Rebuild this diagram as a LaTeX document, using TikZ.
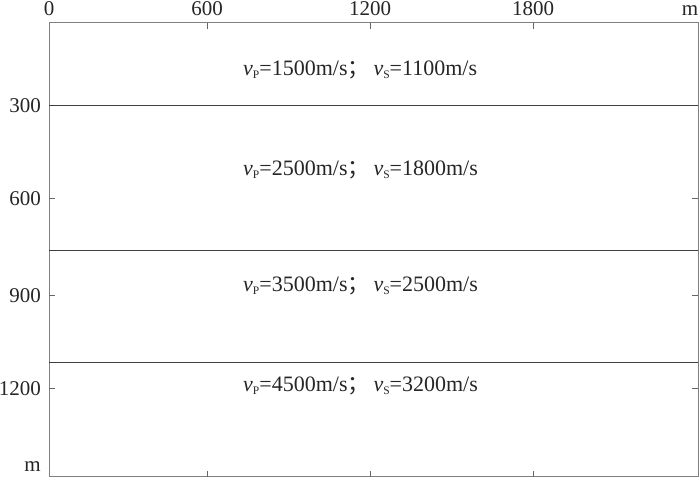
\documentclass[tikz,border=0pt]{standalone}
\usepackage{fontspec}
\setmainfont{Liberation Serif}
\newfontfamily\cjk{Noto Sans CJK SC}
\newcommand{\vsub}[1]{\textit{v}\raisebox{-0.3ex}{\fontsize{11.5}{12}\selectfont #1}}
\begin{document}
\begin{tikzpicture}[x=1pt,y=-1pt,
  lbl/.style={font=\fontsize{21}{24}\selectfont, text=black!85, inner sep=0pt},
  vel/.style={font=\fontsize{22}{25}\selectfont, text=black!85, inner sep=0pt},
  frame/.style={draw=black!50, line width=1pt},
  layer/.style={draw=black!75, line width=0.9pt},
  tick/.style={draw=black!60, line width=0.9pt}]
\useasboundingbox (0,0) rectangle (700,478);
\fill[white] (0,0) rectangle (700,478);
% frame
\coordinate (tl) at (49,23);
\coordinate (br) at (698,476.5);
\draw[frame] (tl) rectangle (br);
% layer boundaries
\coordinate (l1a) at (49,105.7); \coordinate (l1b) at (698,105.7);
\coordinate (l2a) at (49,250);   \coordinate (l2b) at (698,250);
\coordinate (l3a) at (49,362);   \coordinate (l3b) at (698,362);
\draw[layer] (l1a) -- (l1b);
\draw[layer] (l2a) -- (l2b);
\draw[layer] (l3a) -- (l3b);
% x ticks
\foreach \x in {207,370,533}{
  \draw[tick] (\x,23) -- (\x,29);
  \draw[tick] (\x,476.5) -- (\x,470.5);
}
% y ticks
\foreach \y in {198.7,295.7,388.7}{
  \draw[tick] (49,\y) -- (55,\y);
  \draw[tick] (698,\y) -- (692,\y);
}
% top labels
\node[lbl, anchor=base] (x0) at (49,16) {0};
\node[lbl, anchor=base] (x600) at (207,16) {600};
\node[lbl, anchor=base] (x1200) at (370,16) {1200};
\node[lbl, anchor=base] (x1800) at (533,16) {1800};
\node[lbl, anchor=base] (xm) at (690,16) {m};
% left labels
\node[lbl, anchor=east] (y300) at (41,106) {300};
\node[lbl, anchor=east] (y600) at (41,199) {600};
\node[lbl, anchor=east] (y900) at (41,296) {900};
\node[lbl, anchor=east] (y1200) at (41,389) {1200};
\node[lbl, anchor=east] (ym) at (41,467) {m};
% velocity labels
\node[vel, anchor=west] (v1) at (243,70) {\vsub{P}=1500m/s{\cjk ；}\hspace{4pt}\vsub{S}=1100m/s};
\node[vel, anchor=west] (v2) at (243,170) {\vsub{P}=2500m/s{\cjk ；}\hspace{4pt}\vsub{S}=1800m/s};
\node[vel, anchor=west] (v3) at (243,286) {\vsub{P}=3500m/s{\cjk ；}\hspace{4pt}\vsub{S}=2500m/s};
\node[vel, anchor=west] (v4) at (243,386) {\vsub{P}=4500m/s{\cjk ；}\hspace{4pt}\vsub{S}=3200m/s};
\end{tikzpicture}
\end{document}
